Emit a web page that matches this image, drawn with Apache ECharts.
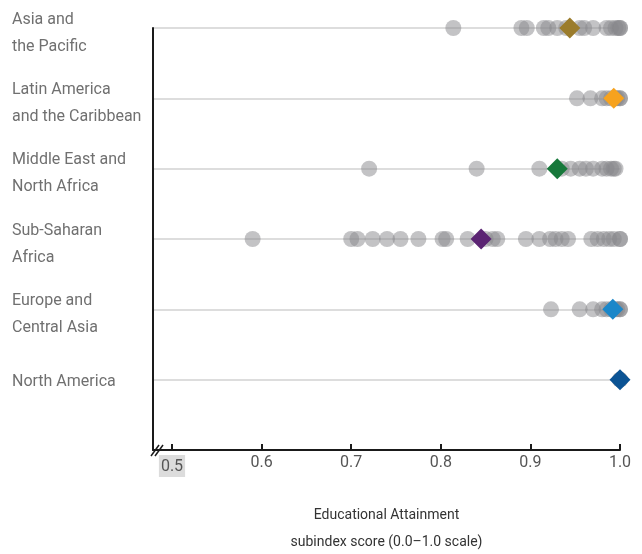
<!DOCTYPE html>
<html><head><meta charset="utf-8">
<script src="https://cdn.jsdelivr.net/npm/echarts@6/dist/echarts.min.js"></script>
<style>html,body{margin:0;padding:0;background:#fff}#c{width:642px;height:554px}</style>
</head><body><div id="c"></div>
<script>
const regions = ['North America','Europe and\nCentral Asia','Sub-Saharan\nAfrica','Middle East and\nNorth Africa','Latin America\nand the Caribbean','Asia and\nthe Pacific'];
const asiaPacific = [0.814,0.89,0.896,0.915,0.92,0.93,0.94,0.955,0.96,0.97,0.985,0.99,0.995,0.998,1.0,1.0];
const latinAmerica = [0.952,0.967,0.98,0.985,0.99,0.995,0.997,1.0,1.0];
const middleEast = [0.72,0.84,0.91,0.935,0.945,0.955,0.962,0.97,0.98,0.985,0.99,0.993,0.995];
const subSaharan = [0.59,0.70,0.707,0.724,0.74,0.755,0.775,0.802,0.806,0.83,0.85,0.858,0.863,0.895,0.91,0.922,0.928,0.935,0.942,0.968,0.975,0.982,0.988,0.993,1.0,1.0];
const europe = [0.923,0.955,0.97,0.98,0.985,0.99,0.995,0.997,1.0,1.0];
const northAmerica = [1.0,1.0];
const averages = [1.0,0.992,0.845,0.93,0.993,0.944];
const avgColors = ['#0b5394','#1b87c9','#5b2473','#17783b','#f6a21e','#9b7c2c'];
const tickValues = [0.5,0.6,0.7,0.8,0.9,1.0];
const tickLabels = ['0.5','0.6','0.7','0.8','0.9','1.0'];
const regionValues = [northAmerica,europe,subSaharan,middleEast,latinAmerica,asiaPacific];

const FONT = 'Roboto';
const series = [];
regionValues.forEach((vals,i)=>{
  series.push({type:'scatter',symbol:'circle',symbolSize:16,silent:true,z:2,
    itemStyle:{color:'#88888c',opacity:0.5},
    data: vals.map(v=>[v,regions[i]])});
});
averages.forEach((v,i)=>{
  series.push({type:'scatter',symbol:'diamond',symbolSize:[21,21],z:5,silent:true,
    itemStyle:{color:avgColors[i],opacity:1},data:[[v,regions[i]]]});
});

const chart = echarts.init(document.getElementById('c'),null,{renderer:'canvas'});
chart.setOption({
  animation:false,
  grid:{left:153,right:22,top:28,bottom:104,outerBoundsMode:'none',containLabel:false},
  xAxis:{type:'value',min:0.4788,max:1.0,
    axisLine:{show:true,lineStyle:{color:'#1a1a1a',width:2}},
    axisTick:{show:true,inside:true,length:6,customValues:tickValues,lineStyle:{color:'#1a1a1a',width:2}},
    axisLabel:{customValues:tickValues,margin:5,fontFamily:FONT,fontSize:16,color:'#555',
      formatter:function(v){const i=tickValues.findIndex(t=>Math.abs(t-v)<1e-6);const s=i>=0?tickLabels[i]:'';return i===0?'{hl|'+s+'}':s;},
      rich:{hl:{backgroundColor:'#dcdcdc',padding:[4,2,2,2],fontFamily:FONT,fontSize:16,color:'#555'}}},
    splitLine:{show:false},
    name:'Educational Attainment\nsubindex score (0.0–1.0 scale)',nameLocation:'middle',nameGap:52,
    nameTextStyle:{fontFamily:FONT,fontSize:14,color:'#333',lineHeight:27,padding:[0,0,0,0]}
  },
  yAxis:{type:'category',boundaryGap:false,data:[''].concat(regions),
    axisLine:{show:true,lineStyle:{color:'#1a1a1a',width:2}},
    axisTick:{show:false},
    axisLabel:{align:'left',margin:141,fontFamily:FONT,fontSize:16,color:'#707070',lineHeight:27,
      formatter:function(v){ if(!v) return ''; const ls=v.split('\n'); return (ls.length>1?'{s|}':'{t|}')+'\n' + ls.map(l=>'{a|'+l+'}').join('\n'); },
      rich:{s:{fontSize:2,lineHeight:10,height:10},t:{fontSize:2,lineHeight:4,height:4},a:{fontFamily:FONT,fontSize:16,color:'#707070',lineHeight:27,align:'left'}}},
    splitLine:{show:true,lineStyle:{color:'#dddddd',width:2}}
  },
  series:series,
  graphic:[
    {type:'line',shape:{x1:151,y1:456,x2:159,y2:445},style:{stroke:'#1a1a1a',lineWidth:1.5},z:100},
    {type:'line',shape:{x1:155,y1:456,x2:163,y2:445},style:{stroke:'#1a1a1a',lineWidth:1.5},z:100}
  ]
});
</script></body></html>
